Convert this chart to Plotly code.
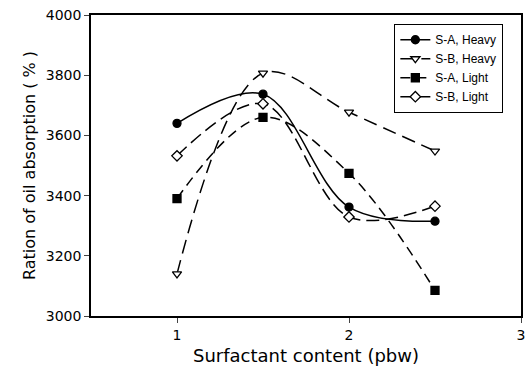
import plotly.graph_objects as go

x = [1, 1.5, 2, 2.5]
sa_heavy = [3640, 3737, 3362, 3315]
sb_heavy = [3140, 3807, 3677, 3548]
sa_light = [3390, 3660, 3474, 3085]
sb_light = [3532, 3705, 3329, 3365]

names = ["S-A, Heavy", "S-B, Heavy", "S-A, Light", "S-B, Light"]
series = [sa_heavy, sb_heavy, sa_light, sb_light]
symbols = ["circle", "triangle-down", "square", "diamond"]
fills = ["black", "white", "black", "white"]
dashes = ["solid", "14px,7px", "10px,6px", "13px,6px"]

fig = go.Figure()
for n, s, sym, f, d in zip(names, series, symbols, fills, dashes):
    fig.add_trace(go.Scatter(
        x=x, y=s, name=n, mode="lines+markers",
        line=dict(color="black", width=1.5, dash=d, shape="spline", smoothing=1.0),
        marker=dict(symbol=sym, size=8, color=f, line=dict(color="black", width=1.3)),
    ))

fig.update_layout(
    width=526, height=374,
    margin=dict(l=91, r=1, t=15, b=58),
    plot_bgcolor="white", paper_bgcolor="white",
    font=dict(family="DejaVu Sans, sans-serif", color="black"),
    showlegend=True,
    legend=dict(x=0.705, y=0.97, xanchor="left", yanchor="top",
                bordercolor="black", borderwidth=1.2, bgcolor="white",
                font=dict(size=12, family="Arial, Liberation Sans, sans-serif"),
                tracegroupgap=0, itemwidth=30),
)
fig.update_xaxes(range=[0.5, 3], tickvals=[1, 2, 3], ticks="outside", ticklen=5,
                 ticklabeloverflow="allow",
                 showline=True, linecolor="black", linewidth=1.5, mirror=True,
                 showgrid=False, zeroline=False, tickfont=dict(size=14),
                 title=dict(text="Surfactant content (pbw)", font=dict(size=18), standoff=8))
fig.update_yaxes(range=[3000, 4000], tickvals=[3000, 3200, 3400, 3600, 3800, 4000],
                 ticks="outside", ticklen=5, ticklabeloverflow="allow",
                 showline=True, linecolor="black", linewidth=1.5, mirror=True,
                 showgrid=False, zeroline=False, tickfont=dict(size=14),
                 title=dict(text="Ration of oil absorption ( % )", font=dict(size=16), standoff=6))

fig.write_html("out.html")
